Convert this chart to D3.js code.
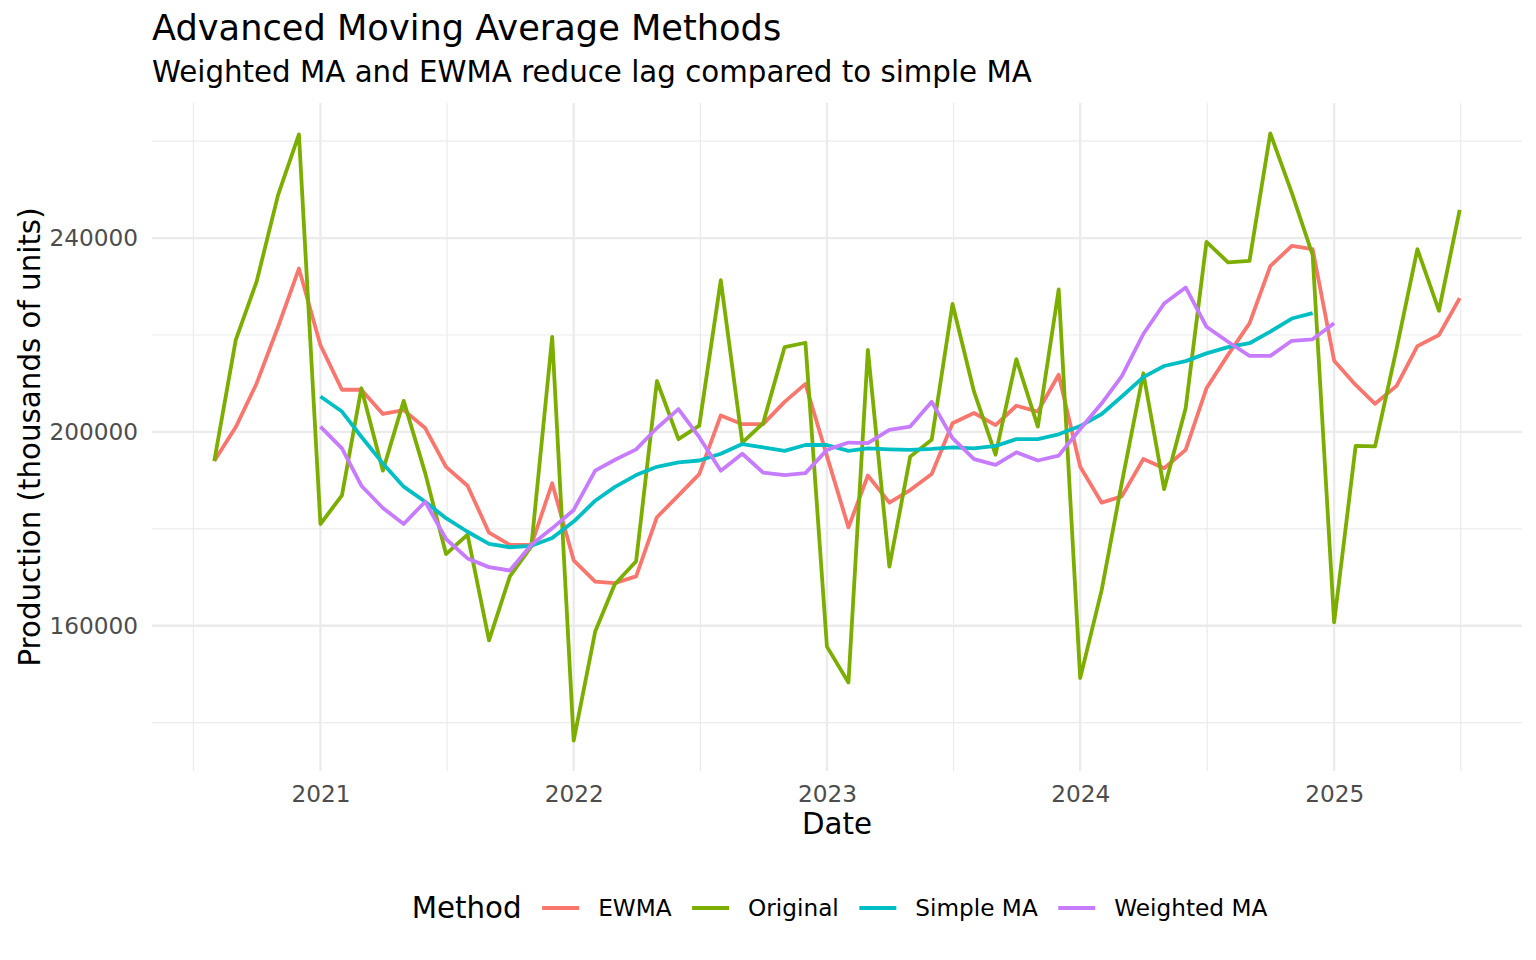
<!DOCTYPE html>
<html><head><meta charset="utf-8">
<script src="https://cdn.jsdelivr.net/npm/d3@7"></script>
<style>body{margin:0;background:#fff}svg{display:block}text{font-family:"DejaVu Sans",sans-serif}</style>
</head><body>
<svg id="c" width="1536" height="960"></svg>
<script>
const months = [
 "2020-08","2020-09","2020-10","2020-11","2020-12",
 "2021-01","2021-02","2021-03","2021-04","2021-05","2021-06","2021-07","2021-08","2021-09","2021-10","2021-11","2021-12",
 "2022-01","2022-02","2022-03","2022-04","2022-05","2022-06","2022-07","2022-08","2022-09","2022-10","2022-11","2022-12",
 "2023-01","2023-02","2023-03","2023-04","2023-05","2023-06","2023-07","2023-08","2023-09","2023-10","2023-11","2023-12",
 "2024-01","2024-02","2024-03","2024-04","2024-05","2024-06","2024-07","2024-08","2024-09","2024-10","2024-11","2024-12",
 "2025-01","2025-02","2025-03","2025-04","2025-05","2025-06","2025-07"];
const original = [194000,219000,231000,248900,261400,
 181000,186900,209000,192000,206400,191500,174800,178800,157000,170200,176400,219600,
 136300,158800,168500,173300,210500,198500,201300,231300,197800,201800,217500,218400,
 155700,148300,216900,172200,194900,198400,226400,208300,195300,215000,201100,229400,
 149200,167400,189500,212100,188200,204900,239200,235000,235300,261600,249300,236500,
 160700,197100,197000,217200,237700,225000,245800];
const ewma = [194000,201000,210000,221700,233700,
 217900,208700,208700,203700,204500,200800,192800,188900,179200,176700,176700,189400,
 173500,169100,168800,170200,182400,186900,191300,203400,201600,201600,206200,209900,
 195000,180300,191000,185400,188000,191300,201800,203900,201400,205400,204200,211800,
 192800,185400,186700,194400,192500,196300,209000,215900,222400,234200,238400,237700,
 214700,209700,205800,209500,217700,220000,227600];
// Simple MA: 2021-01 .. 2024-12
const simpleMA = [207300,204200,199000,193500,188700,185600,182200,179400,176900,176200,176500,178100,
 181500,185800,188600,191100,192800,193700,194100,195500,197500,196800,196100,197300,
 197300,196100,196600,196400,196300,196500,196800,196600,197100,198500,198500,199500,
 201200,203700,207300,211300,213600,214600,216200,217500,218300,220700,223400,224500];
// Weighted MA: 2021-01 .. 2025-01
const weightedMA = [201100,196600,188900,184300,181000,185600,177900,173900,172100,171400,176700,180100,
 183900,192000,194200,196400,200800,204700,198900,192000,195500,191600,191100,191500,
 196300,197800,197700,200400,201100,206200,198700,194400,193200,195800,194100,195100,
 200600,205900,211500,220200,226500,229800,221700,218600,215700,215700,218800,219100,
 222400];
const methods = ["EWMA","Original","Simple MA","Weighted MA"];
const colors = ["#F8766D","#7CAE00","#00BFC4","#C77CFF"];
const yearTicks = ["2021","2022","2023","2024","2025"];
const yMajor = [160000,200000,240000];
const yMinor = [140000,180000,220000,260000];

const parse = d3.utcParse("%Y-%m");
const dates = months.map(parse);
const maStart = months.indexOf("2021-01");
const seriesVals = [ewma, original, simpleMA, weightedMA];
const seriesStart = [0, 0, maStart, maStart];

const P = {l:152, r:1522, t:103, b:771};
const svg = d3.select("#c");

const t0 = +dates[0], t1 = +dates[dates.length-1], span = t1 - t0;
const x = d3.scaleUtc().domain([new Date(t0 - 0.05*span), new Date(t1 + 0.05*span)]).range([P.l, P.r]);
const allV = [].concat(original, ewma, simpleMA, weightedMA);
const vmin = d3.min(allV), vmax = d3.max(allV), vr = vmax - vmin;
const y = d3.scaleLinear().domain([vmin - 0.05*vr, vmax + 0.05*vr]).range([P.b, P.t]);

// grid
const yearDates = yearTicks.map(s => d3.utcParse("%Y")(s));
const minorX = [];
const ext = [d3.utcYear.offset(yearDates[0], -1)].concat(yearDates, [d3.utcYear.offset(yearDates[yearDates.length-1], 1)]);
for (let i = 0; i < ext.length-1; i++) {
  const m = new Date((+ext[i] + +ext[i+1]) / 2);
  if (m >= x.domain()[0] && m <= x.domain()[1]) minorX.push(m);
}
const g = svg.append("g");
g.selectAll(".hmin").data(yMinor).join("line")
  .attr("x1", P.l).attr("x2", P.r).attr("y1", d => y(d)).attr("y2", d => y(d))
  .attr("stroke", "#EBEBEB").attr("stroke-width", 1.2);
g.selectAll(".vmin").data(minorX).join("line")
  .attr("y1", P.t).attr("y2", P.b).attr("x1", d => x(d)).attr("x2", d => x(d))
  .attr("stroke", "#EBEBEB").attr("stroke-width", 1.2);
g.selectAll(".hmaj").data(yMajor).join("line")
  .attr("x1", P.l).attr("x2", P.r).attr("y1", d => y(d)).attr("y2", d => y(d))
  .attr("stroke", "#EBEBEB").attr("stroke-width", 2.3);
g.selectAll(".vmaj").data(yearDates).join("line")
  .attr("y1", P.t).attr("y2", P.b).attr("x1", d => x(d)).attr("x2", d => x(d))
  .attr("stroke", "#EBEBEB").attr("stroke-width", 2.3);

// lines
const line = d3.line().x(d => x(d.date)).y(d => y(d.v));
methods.forEach((m, k) => {
  const pts = seriesVals[k].map((v, i) => ({date: dates[seriesStart[k] + i], v}));
  svg.append("path").datum(pts).attr("d", line)
    .attr("fill", "none").attr("stroke", colors[k]).attr("stroke-width", 3.8)
    .attr("stroke-linejoin", "round");
});

// axes
const xa = svg.append("g").attr("transform", `translate(0,${P.b})`)
  .call(d3.axisBottom(x).tickValues(yearDates).tickFormat(d3.utcFormat("%Y")).tickSize(0).tickPadding(15));
const ya = svg.append("g").attr("transform", `translate(${P.l},0)`)
  .call(d3.axisLeft(y).tickValues(yMajor).tickFormat(d3.format("d")).tickSize(0).tickPadding(14));
[xa, ya].forEach(a => {
  a.select(".domain").remove();
  a.attr("font-family", null).attr("font-size", null);
  a.selectAll("text").attr("fill", "#4D4D4D").style("font-size", "23.2px").style("font-family", '"DejaVu Sans"');
});

// titles
svg.append("text").attr("x", P.l).attr("y", 40).style("font-size", "35.2px").attr("fill", "#000")
  .text("Advanced Moving Average Methods");
svg.append("text").attr("x", P.l).attr("y", 82).style("font-size", "29.3px").attr("fill", "#000")
  .text("Weighted MA and EWMA reduce lag compared to simple MA");
svg.append("text").attr("x", (P.l+P.r)/2).attr("y", 834).attr("text-anchor", "middle")
  .style("font-size", "29.3px").text("Date");
svg.append("text").attr("transform", `translate(40,${(P.t+P.b)/2}) rotate(-90)`).attr("text-anchor", "middle")
  .style("font-size", "29.3px").text("Production (thousands of units)");

// legend
const lg = svg.append("g");
const title = lg.append("text").attr("x", 0).attr("y", 918).style("font-size", "29.3px").text("Method");
let cx = title.node().getComputedTextLength() + 20.5;
methods.forEach((m, k) => {
  lg.append("line").attr("x1", cx).attr("x2", cx + 37).attr("y1", 908).attr("y2", 908)
    .attr("stroke", colors[k]).attr("stroke-width", 3.8);
  cx += 37 + 19;
  const t = lg.append("text").attr("x", cx).attr("y", 916).style("font-size", "23.2px").text(m);
  cx += t.node().getComputedTextLength() + 20.5;
});
const lw = cx - 20.5;
lg.attr("transform", `translate(${839.5 - lw/2},0)`);
</script>
</body></html>
